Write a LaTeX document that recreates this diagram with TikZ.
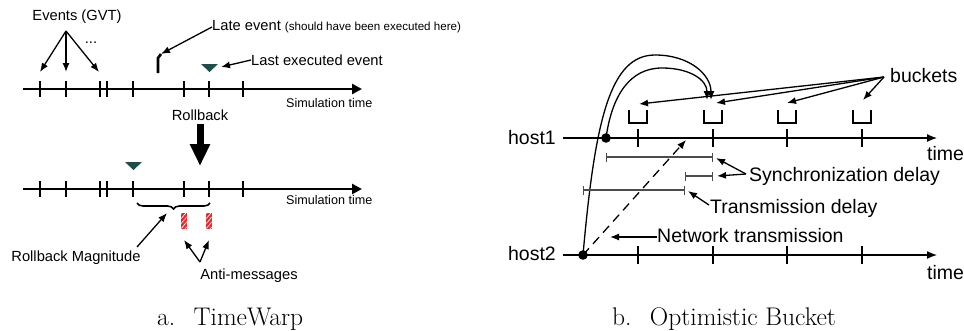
\documentclass[tikz,border=0pt]{standalone}
\usepackage{fontspec}
\newfontfamily\lab{Liberation Sans}
\usetikzlibrary{arrows.meta,decorations.pathreplacing,patterns.meta}
\definecolor{tealmark}{HTML}{1D4F4A}
\definecolor{antired}{HTML}{E52B30}
\begin{document}
\begin{tikzpicture}[x=1pt,y=-1pt,
  labA/.style={font=\lab\fontsize{14.7}{17}\selectfont, inner sep=0pt},
  labS/.style={font=\lab\fontsize{12.6}{15}\selectfont, inner sep=0pt},
  labB/.style={font=\lab\fontsize{19.5}{22}\selectfont, inner sep=0pt},
  capt/.style={font=\fontsize{25.5}{30}\selectfont, inner sep=0pt, anchor=base west},
  axisA/.style={line width=2.6pt, -{Triangle[length=10pt,width=10pt]}},
  tickA/.style={line width=2.6pt},
  arrA/.style={line width=1.3pt, -{Latex[length=9pt,width=7pt]}},
  axisB/.style={line width=1.3pt, -{Latex[length=10pt,width=8pt]}},
  lineB/.style={line width=1.3pt},
  arrB/.style={line width=1.3pt, -{Latex[length=9pt,width=7pt]}},
  ival/.style={line width=1.1pt, black!70, {Bar[width=9pt]}-{Bar[width=9pt]}},
  evmark/.style={fill=tealmark},
]
\useasboundingbox (0,0) rectangle (964,330);

% ================= a. TimeWarp =================
% top time line
\coordinate (t1s) at (23,89);
\coordinate (t1e) at (362,89);
\draw[axisA] (t1s) -- (t1e);
\foreach \x in {40,66,100,107,133,184,209,243}
  \draw[tickA] (\x,81) -- (\x,97);
\node[labS, anchor=west] (sim1) at (286,103) {Simulation time};

% events (GVT)
\node[labA] (ev) at (77,17) {Events (GVT)};
\coordinate (evs) at (66,31);
\coordinate (ev1) at (40,72);
\coordinate (ev2) at (66,72);
\coordinate (ev3) at (99,72);
\draw[arrA] (evs) -- (ev1);
\draw[arrA] (evs) -- (ev2);
\draw[arrA] (evs) -- (ev3);
\node[labA] (dots) at (91,43) {...};

% late event
\draw[tickA] (158,73) -- (158,58) -- (161,54);
\node[labA, anchor=west] (late) at (212,27)
  {Late event {\fontsize{11.6}{13}\selectfont (should have been executed here)}};
\coordinate (latetip) at (161,54);
\draw[arrA] (late.west) -- (latetip);

% last executed event
\fill[evmark] (201,64) -- (218,64) -- (209.5,72) -- cycle;
\node[labA, anchor=west] (last) at (251,60) {Last executed event};
\coordinate (lasttip) at (221,67);
\draw[arrA] (last.west) -- (lasttip);

% rollback
\node[labA] (rb) at (200,115) {Rollback};
\coordinate (rbs) at (200,124);
\coordinate (rbe) at (200,166);
\draw[line width=7pt, -{Triangle[length=22pt,width=19pt]}] (rbs) -- (rbe);

% bottom time line
\coordinate (t2s) at (23,189);
\coordinate (t2e) at (362,189);
\draw[axisA] (t2s) -- (t2e);
\foreach \x in {40,66,100,107,133,184,209,243}
  \draw[tickA] (\x,181) -- (\x,197);
\node[labS, anchor=west] (sim2) at (286,200) {Simulation time};
\fill[evmark] (125,162) -- (142,162) -- (133.5,170) -- cycle;

% rollback magnitude brace
\coordinate (brs) at (137,203);
\coordinate (bre) at (210,203);
\draw[line width=1.6pt, decorate, decoration={brace, amplitude=6pt, mirror}] (brs) -- (bre);
\node[labA] (rbm) at (76,258) {Rollback Magnitude};
\coordinate (rbmtip) at (167,213);
\draw[arrA] (137,247) -- (rbmtip);

% anti-messages
\foreach \x in {184,209} {
  \fill[antired] (\x-2.6,213) rectangle (\x+2.6,229);
  \fill[pattern={Lines[angle=50,distance=3.2pt,line width=0.7pt]}, pattern color=white]
    (\x-2.6,213) rectangle (\x+2.6,229);
}
\node[labA] (anti) at (249,276) {Anti-messages};
\coordinate (ams) at (200,262);
\coordinate (am1) at (184,240);
\coordinate (am2) at (209,240);
\draw[arrA] (ams) -- (am1);
\draw[arrA] (ams) -- (am2);

\node[capt] (capa) at (157,325) {a.\hspace{0.72em}TimeWarp};

% ================= b. Optimistic Bucket =================
\node[labB, anchor=east] (h1) at (556,138) {host1};
\node[labB, anchor=east] (h2) at (556,254) {host2};
\coordinate (h1s) at (563,138);
\coordinate (h1e) at (937,138);
\coordinate (h2s) at (563,255);
\coordinate (h2e) at (937,255);
\draw[axisB] (h1s) -- (h1e);
\draw[axisB] (h2s) -- (h2e);
\node[labB, anchor=west] (time1) at (927,154) {time};
\node[labB, anchor=west] (time2) at (927,273) {time};
\foreach \x in {638,713,787,862} {
  \draw[lineB] (\x,129) -- (\x,147);
  \draw[lineB] (\x,246) -- (\x,264);
  \draw[lineB] (\x-9,110) -- (\x-9,123) -- (\x+9,123) -- (\x+9,110);
}

% dots
\fill (606,138) circle (4.8pt) coordinate (d1);
\fill (583,255) circle (4.8pt) coordinate (d2);

% curved messages
\coordinate (c1) at (711,100);
\coordinate (c2) at (707,100);
\draw[lineB, -{Latex[length=9pt,width=7pt]}] (d2) .. controls (595,120) and (610,55) .. (655,55)
  .. controls (690,55) and (711,75) .. (c1);
\draw[lineB, -{Latex[length=9pt,width=7pt]}] (d1) .. controls (612,95) and (630,68) .. (662,68)
  .. controls (690,68) and (707,80) .. (c2);

% dashed network transmission
\coordinate (dtip) at (686,140);
\draw[lineB, dash pattern=on 9pt off 6pt, -{Latex[length=9pt,width=7pt]}] (d2) -- (dtip);

% intervals
\draw[ival] (606,157) -- (713,157);
\draw[ival] (685,176) -- (713,176);
\draw[ival] (583,190) -- (685,190);

% labels
\node[labB, anchor=west] (sync) at (749,176) {Synchronization delay};
\coordinate (ss) at (746,174);
\coordinate (s1) at (716,158);
\coordinate (s2) at (717,176);
\draw[arrB] (ss) -- (s1);
\draw[arrB] (ss) -- (s2);

\node[labB, anchor=west] (trans) at (710,208) {Transmission delay};
\coordinate (trs) at (709,205);
\coordinate (trt) at (688,191);
\draw[arrB] (trs) -- (trt);

\node[labB, anchor=west] (net) at (657,236) {Network transmission};
\coordinate (ntt) at (610,237);
\draw[arrB] (net.west |- ntt) -- (ntt);

\node[labB, anchor=west] (bk) at (890,76) {buckets};
\coordinate (bs) at (884,77);
\coordinate (b1) at (639,104);
\coordinate (b2) at (716,103);
\coordinate (b3) at (787,103);
\coordinate (b4) at (863,100);
\draw[arrB] (bs) -- (b1);
\draw[arrB] (bs) -- (b2);
\draw[arrB] (bs) -- (b3);
\draw[arrB] (bs) -- (b4);

\node[capt] (capb) at (612,325) {b.\hspace{0.72em}Optimistic Bucket};
\end{tikzpicture}
\end{document}
